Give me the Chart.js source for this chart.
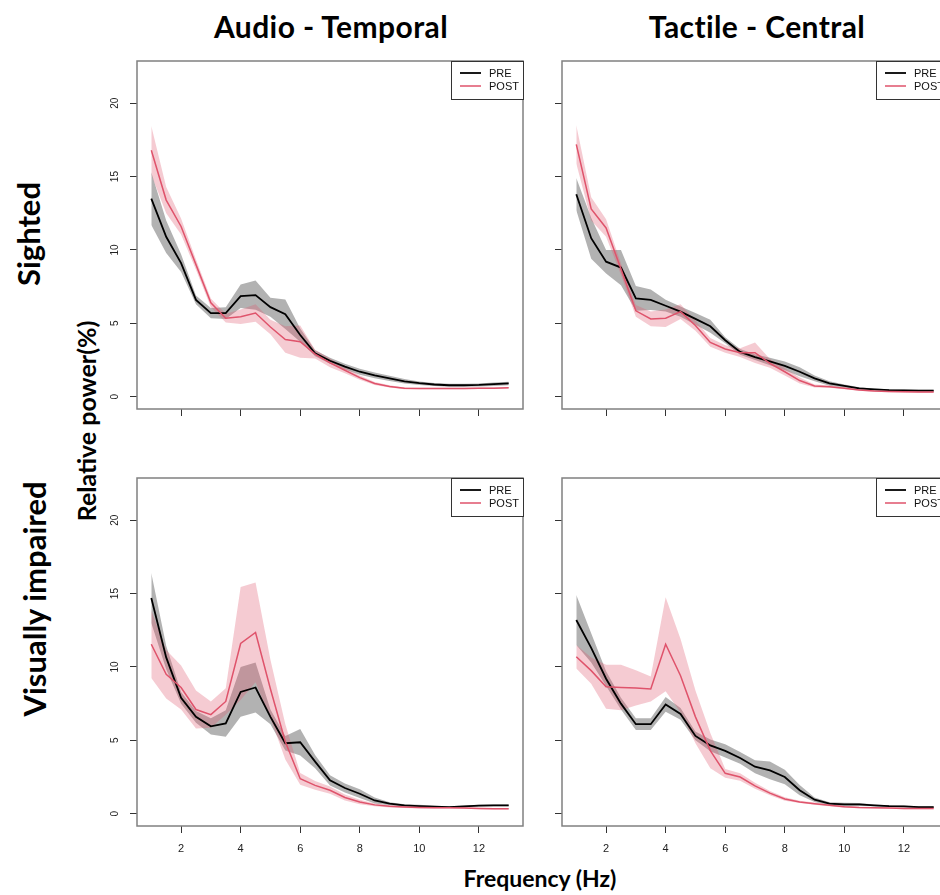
<!DOCTYPE html>
<html>
<head>
<meta charset="utf-8">
<script src="https://cdn.jsdelivr.net/npm/chart.js@4.4.1/dist/chart.umd.min.js"></script>
<style>
  html, body { margin: 0; padding: 0; background: #fff; overflow: hidden; }
  body { width: 940px; height: 895px; position: relative; }
  canvas { position: absolute; }
  .lbl { position: absolute; font-family: Lato, "Open Sans", sans-serif; font-weight: 700; color: #000; white-space: nowrap; line-height: 1; }
  .col { font-size: 30px; top: 11px; letter-spacing: 0.4px; transform: translateX(-50%); }
  .rot { transform: translate(-50%, -50%) rotate(-90deg); }
</style>
</head>
<body>
<div class="lbl col" style="left:331px">Audio - Temporal</div>
<div class="lbl col" style="left:757px">Tactile - Central</div>
<div class="lbl rot" style="left:28px; top:234px; font-size:31px">Sighted</div>
<div class="lbl rot" style="left:34px; top:599px; font-size:31px">Visually impaired</div>
<div class="lbl rot" style="left:86px; top:421px; font-size:25px">Relative power(%)</div>
<div class="lbl" style="left:540px; top:867px; font-size:23px; transform:translateX(-50%)">Frequency (Hz)</div>

<canvas id="sightedTemporal"></canvas>
<canvas id="sightedCentral"></canvas>
<canvas id="viTemporal"></canvas>
<canvas id="viCentral"></canvas>

<script>
// frequency bins (Hz)
const freqs = [1, 1.5, 2, 2.5, 3, 3.5, 4, 4.5, 5, 5.5, 6, 6.5, 7, 7.5, 8, 8.5, 9, 9.5, 10, 10.5, 11, 11.5, 12, 12.5, 13];
const xTicks = [2, 4, 6, 8, 10, 12];
const yTicks = [0, 5, 10, 15, 20];

// Sighted, Audio - Temporal
const stPre    = [13.5, 10.9, 9.1, 6.6, 5.7, 5.7, 6.85, 6.92, 6.1, 5.62, 4.2, 2.96, 2.45, 2.05, 1.7, 1.45, 1.25, 1.05, 0.92, 0.83, 0.78, 0.78, 0.8, 0.85, 0.9];
const stPreSe  = [1.8, 1.1, 0.6, 0.3, 0.35, 0.4, 0.8, 1.0, 0.65, 1.0, 0.45, 0.2, 0.2, 0.2, 0.2, 0.2, 0.18, 0.15, 0.12, 0.1, 0.1, 0.1, 0.1, 0.12, 0.12];
const stPost   = [16.8, 13.4, 11.6, 9.0, 6.4, 5.35, 5.45, 5.7, 4.75, 3.9, 3.75, 2.9, 2.3, 1.8, 1.3, 0.9, 0.7, 0.57, 0.55, 0.55, 0.55, 0.55, 0.57, 0.58, 0.6];
const stPostSe = [1.65, 0.9, 0.55, 0.35, 0.3, 0.3, 0.5, 0.6, 0.5, 0.9, 1.1, 0.3, 0.3, 0.2, 0.15, 0.1, 0.08, 0.06, 0.05, 0.05, 0.05, 0.05, 0.05, 0.05, 0.05];

// Sighted, Tactile - Central
const scPre    = [13.8, 10.8, 9.2, 8.8, 6.7, 6.6, 6.2, 5.8, 5.3, 4.8, 3.85, 3.05, 2.7, 2.4, 2.1, 1.7, 1.25, 0.9, 0.73, 0.57, 0.5, 0.45, 0.43, 0.41, 0.41];
const scPreSe  = [1.1, 1.4, 0.8, 1.2, 0.85, 0.7, 0.4, 0.35, 0.4, 0.45, 0.2, 0.2, 0.2, 0.25, 0.3, 0.3, 0.2, 0.15, 0.1, 0.08, 0.06, 0.06, 0.06, 0.06, 0.06];
const scPost   = [17.2, 12.8, 11.5, 8.7, 5.85, 5.3, 5.35, 5.8, 4.85, 3.7, 3.25, 3.0, 3.0, 2.27, 1.7, 1.1, 0.73, 0.68, 0.57, 0.45, 0.39, 0.36, 0.34, 0.32, 0.32];
const scPostSe = [1.3, 0.8, 0.6, 0.4, 0.4, 0.5, 0.6, 0.5, 0.35, 0.3, 0.25, 0.3, 0.7, 0.3, 0.25, 0.2, 0.1, 0.08, 0.06, 0.05, 0.05, 0.05, 0.05, 0.05, 0.05];

// Visually impaired, Audio - Temporal
const vtPre    = [14.7, 10.65, 7.9, 6.6, 5.95, 6.15, 8.3, 8.6, 6.6, 4.8, 4.87, 3.55, 2.27, 1.75, 1.36, 0.9, 0.68, 0.57, 0.52, 0.48, 0.45, 0.5, 0.55, 0.57, 0.57];
const vtPreSe  = [1.7, 0.8, 0.4, 0.4, 0.55, 0.9, 1.7, 1.7, 0.5, 0.5, 0.9, 0.45, 0.35, 0.3, 0.3, 0.2, 0.1, 0.08, 0.08, 0.06, 0.06, 0.06, 0.06, 0.06, 0.06];
const vtPost   = [11.55, 9.5, 8.6, 7.1, 6.75, 7.65, 11.6, 12.35, 8.5, 4.9, 2.38, 1.93, 1.6, 1.1, 0.8, 0.6, 0.5, 0.45, 0.42, 0.4, 0.4, 0.38, 0.35, 0.33, 0.33];
const vtPostSe = [2.3, 1.65, 1.5, 1.3, 0.9, 0.9, 3.85, 3.4, 2.0, 1.2, 0.4, 0.3, 0.25, 0.2, 0.15, 0.1, 0.08, 0.06, 0.06, 0.05, 0.05, 0.05, 0.05, 0.05, 0.05];

// Visually impaired, Tactile - Central
const vcPre    = [13.2, 11.3, 9.2, 7.5, 6.1, 6.1, 7.45, 6.8, 5.3, 4.65, 4.28, 3.8, 3.2, 2.95, 2.5, 1.6, 0.95, 0.68, 0.63, 0.63, 0.57, 0.52, 0.5, 0.45, 0.45];
const vcPreSe  = [1.7, 1.0, 0.5, 0.4, 0.4, 0.4, 0.5, 0.4, 0.3, 0.4, 0.45, 0.4, 0.45, 0.6, 0.5, 0.35, 0.15, 0.1, 0.12, 0.1, 0.06, 0.06, 0.06, 0.06, 0.06];
const vcPost   = [10.7, 9.75, 8.65, 8.6, 8.57, 8.5, 11.55, 9.4, 6.6, 4.3, 2.75, 2.5, 1.9, 1.4, 1.0, 0.8, 0.68, 0.57, 0.47, 0.42, 0.4, 0.38, 0.36, 0.35, 0.35];
const vcPostSe = [0.8, 0.9, 1.5, 1.55, 1.2, 0.85, 3.2, 2.5, 1.8, 1.2, 0.3, 0.25, 0.2, 0.15, 0.12, 0.08, 0.08, 0.06, 0.06, 0.05, 0.05, 0.05, 0.05, 0.05, 0.05];

const RED = '#DF536B';
const GREY_BAND = 'rgba(0, 0, 0, 0.3)';
const PINK_BAND = 'rgba(223, 83, 107, 0.3)';
const TICK_FONT = '"Liberation Sans Narrow", "Liberation Sans", Arial, sans-serif';

// plot box geometry (px)
const PLOT_W = 386, PLOT_H = 348;
const Y_AXIS_W = 50, PAD_TOP = 4, PAD_RIGHT = 4;

const toPoints = (vals) => freqs.map((f, i) => ({ x: f, y: vals[i] }));
const offset = (mean, se, k) => mean.map((m, i) => m + k * se[i]);

// box around the plot, rotated y labels and the PRE/POST key
const framePlugin = {
  id: 'frame',
  afterDraw(chart, args, opts) {
    const { ctx, chartArea: a, scales } = chart;
    ctx.save();
    ctx.strokeStyle = '#808080';
    ctx.lineWidth = 1.5;
    ctx.strokeRect(a.left, a.top, a.right - a.left, a.bottom - a.top);

    if (opts.yLabels) {
      ctx.fillStyle = '#222';
      ctx.font = '10px ' + TICK_FONT;
      ctx.textAlign = 'center';
      ctx.textBaseline = 'middle';
      yTicks.forEach(v => {
        ctx.save();
        ctx.translate(a.left - 22, scales.y.getPixelForValue(v));
        ctx.rotate(-Math.PI / 2);
        ctx.fillText(String(v), 0, 0);
        ctx.restore();
      });
    }

    // key in the top right corner
    const bw = 72, bh = 38, bx = a.right - bw, by = a.top;
    ctx.fillStyle = '#fff';
    ctx.fillRect(bx, by, bw, bh);
    ctx.strokeStyle = '#333';
    ctx.lineWidth = 1;
    ctx.strokeRect(bx + 0.5, by + 0.5, bw, bh);
    ctx.font = '11px "Liberation Sans", Arial, sans-serif';
    ctx.textAlign = 'left';
    ctx.textBaseline = 'middle';
    chart.data.datasets.slice(0, 2).forEach((ds, i) => {
      const y = by + 12 + i * 13;
      ctx.strokeStyle = ds.borderColor;
      ctx.lineWidth = ds.borderWidth;
      ctx.beginPath();
      ctx.moveTo(bx + 9, y);
      ctx.lineTo(bx + 30, y);
      ctx.stroke();
      ctx.fillStyle = '#111';
      ctx.fillText(ds.label, bx + 38, y + 0.5);
    });
    ctx.restore();
  }
};

function makePanel(id, left, top, pre, preSe, post, postSe, showX, showY) {
  const xAxisH = showX ? 40 : 12;
  const canvas = document.getElementById(id);
  canvas.width = Y_AXIS_W + PLOT_W + PAD_RIGHT;
  canvas.height = PAD_TOP + PLOT_H + xAxisH;
  canvas.style.left = (left - Y_AXIS_W) + 'px';
  canvas.style.top = (top - PAD_TOP) + 'px';

  const hidden = { borderColor: 'rgba(0,0,0,0)', borderWidth: 0, pointRadius: 0 };

  new Chart(canvas.getContext('2d'), {
    type: 'line',
    data: {
      datasets: [
        { label: 'PRE', data: toPoints(pre), borderColor: '#000', borderWidth: 1.8, pointRadius: 0, fill: false, order: 1 },
        { label: 'POST', data: toPoints(post), borderColor: RED, borderWidth: 1.5, pointRadius: 0, fill: false, order: 0 },
        { label: 'pre-lo', data: toPoints(offset(pre, preSe, -1)), ...hidden, fill: false, order: 5 },
        { label: 'pre-hi', data: toPoints(offset(pre, preSe, 1)), ...hidden, fill: '-1', backgroundColor: GREY_BAND, order: 4 },
        { label: 'post-lo', data: toPoints(offset(post, postSe, -1)), ...hidden, fill: false, order: 3 },
        { label: 'post-hi', data: toPoints(offset(post, postSe, 1)), ...hidden, fill: '-1', backgroundColor: PINK_BAND, order: 2 }
      ]
    },
    options: {
      responsive: false,
      animation: false,
      events: [],
      layout: { padding: { top: PAD_TOP, right: PAD_RIGHT, left: 0, bottom: 0 } },
      elements: { line: { tension: 0 } },
      scales: {
        x: {
          type: 'linear',
          min: 0.52,
          max: 13.48,
          afterBuildTicks: s => { s.ticks = xTicks.map(v => ({ value: v })); },
          afterFit: s => { s.height = xAxisH; },
          grid: { drawOnChartArea: false, drawTicks: true, tickLength: 7, tickColor: '#333', tickWidth: 1 },
          border: { display: false },
          ticks: { display: showX, padding: 9, color: '#222', font: { family: TICK_FONT, size: 11 } }
        },
        y: {
          type: 'linear',
          min: -0.84,
          max: 22.88,
          afterBuildTicks: s => { s.ticks = yTicks.map(v => ({ value: v })); },
          afterFit: s => { s.width = Y_AXIS_W; },
          grid: { drawOnChartArea: false, drawTicks: true, tickLength: 7, tickColor: '#333', tickWidth: 1 },
          border: { display: false },
          ticks: { display: false }
        }
      },
      plugins: {
        legend: { display: false },
        tooltip: { enabled: false },
        frame: { yLabels: showY }
      }
    },
    plugins: [framePlugin]
  });
}

makePanel('sightedTemporal', 137, 61, stPre, stPreSe, stPost, stPostSe, false, true);
makePanel('sightedCentral', 562, 61, scPre, scPreSe, scPost, scPostSe, false, false);
makePanel('viTemporal', 137, 478, vtPre, vtPreSe, vtPost, vtPostSe, true, true);
makePanel('viCentral', 562, 478, vcPre, vcPreSe, vcPost, vcPostSe, true, false);
</script>
</body>
</html>
